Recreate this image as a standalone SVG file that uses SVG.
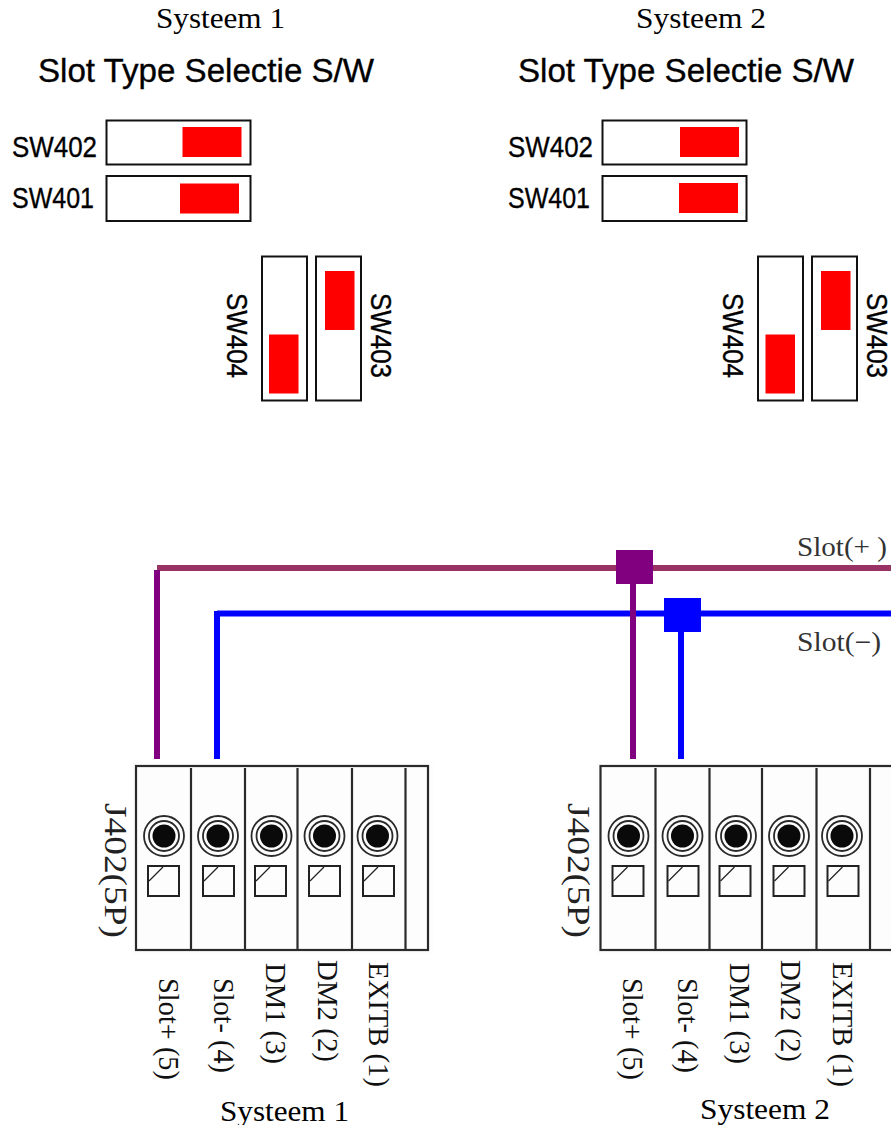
<svg xmlns="http://www.w3.org/2000/svg" xmlns:xlink="http://www.w3.org/1999/xlink" width="891" height="1125" viewBox="0 0 891 1125">
<style>
.serif{font-family:"Liberation Serif",serif;fill:#000}
.sans{font-family:"Liberation Sans",sans-serif;fill:#000;stroke:#000;stroke-width:.35}
.sys{font-size:30px}
.title{font-size:33px}
.sw{font-size:29px}
.pin{font-size:30px;fill:#111}
.jl{font-size:31px;fill:#222}
.sl{font-size:27px;fill:#333}
.box{fill:#fff;stroke:#111;stroke-width:2}
.red{fill:#f00}
.halo{fill:#fdfdfd}
.frame{fill:none;stroke:#2a2a2a;stroke-width:2.2}
.term{fill:none;stroke:#222;stroke-width:2}
.diag{fill:none;stroke:#222;stroke-width:1.3}
.ring{fill:none;stroke:#2a2a2a;stroke-width:1.8}
.dot{fill:#0a0a0a}
.plus{stroke:#993366;stroke-width:6;fill:none}
.purple{stroke:#800080;stroke-width:6;fill:none}
.blue{stroke:#0000ff;stroke-width:6;fill:none}
</style>
<defs>
<g id="screw">
<circle class="ring" r="20"/><circle class="ring" r="15"/><circle class="dot" r="11.500"/>
</g>
<g id="tick"><rect class="term" width="31" height="30"/><path class="diag" d="M1 15 15 1"/></g>
<g id="block">
<rect class="halo" x="-4" y="-4" width="301" height="193"/>
<rect class="frame" width="292" height="184"/>
<path class="frame" d="M55 2V184M109 2V184M161.500 2V184M216 2V184M269.500 2V184"/>
<use xlink:href="#screw" x="28" y="70"/><use xlink:href="#screw" x="82" y="70"/><use xlink:href="#screw" x="135.500" y="70"/><use xlink:href="#screw" x="188.500" y="70"/><use xlink:href="#screw" x="241.500" y="70"/>
<use xlink:href="#tick" x="12" y="100"/><use xlink:href="#tick" x="67" y="100"/><use xlink:href="#tick" x="119" y="100"/><use xlink:href="#tick" x="173" y="100"/><use xlink:href="#tick" x="227" y="100"/>
</g>
</defs>
<rect width="891" height="1125" fill="#fff"/>

<g id="system1-switches">
<text class="serif sys" x="156" y="28" textLength="129" lengthAdjust="spacingAndGlyphs">Systeem 1</text>
<text class="sans title" x="38" y="82" textLength="336" lengthAdjust="spacingAndGlyphs">Slot Type Selectie S/W</text>
<g id="s1-sw402"><text class="sans sw" x="12" y="157" textLength="85" lengthAdjust="spacingAndGlyphs">SW402</text><rect class="box" x="106.500" y="120.500" width="144" height="44"/><rect class="red" x="182.500" y="127" width="59" height="30"/></g>
<g id="s1-sw401"><text class="sans sw" x="12" y="208" textLength="82" lengthAdjust="spacingAndGlyphs">SW401</text><rect class="box" x="106.500" y="176" width="144" height="45"/><rect class="red" x="180" y="183.500" width="59" height="30"/></g>
<g id="s1-sw404"><text class="sans sw" transform="translate(227 293) rotate(90)" textLength="85" lengthAdjust="spacingAndGlyphs">SW404</text><rect class="box" x="262" y="256.500" width="45" height="144"/><rect class="red" x="269" y="334.500" width="29.500" height="59"/></g>
<g id="s1-sw403"><text class="sans sw" transform="translate(371 293) rotate(90)" textLength="85" lengthAdjust="spacingAndGlyphs">SW403</text><rect class="box" x="316" y="256.500" width="45" height="144"/><rect class="red" x="325" y="271" width="29.500" height="59"/></g>
</g>

<g id="system2-switches">
<text class="serif sys" x="636" y="28" textLength="130" lengthAdjust="spacingAndGlyphs">Systeem 2</text>
<text class="sans title" x="518" y="82" textLength="336" lengthAdjust="spacingAndGlyphs">Slot Type Selectie S/W</text>
<g id="s2-sw402"><text class="sans sw" x="508" y="157" textLength="85" lengthAdjust="spacingAndGlyphs">SW402</text><rect class="box" x="602.500" y="120.500" width="144" height="44"/><rect class="red" x="680" y="127" width="59" height="30"/></g>
<g id="s2-sw401"><text class="sans sw" x="508" y="208" textLength="82" lengthAdjust="spacingAndGlyphs">SW401</text><rect class="box" x="602.500" y="176" width="144" height="45"/><rect class="red" x="679" y="183" width="59" height="30"/></g>
<g id="s2-sw404"><text class="sans sw" transform="translate(723 293) rotate(90)" textLength="85" lengthAdjust="spacingAndGlyphs">SW404</text><rect class="box" x="758" y="256.500" width="45" height="144"/><rect class="red" x="765.500" y="334.500" width="29.500" height="59"/></g>
<g id="s2-sw403"><text class="sans sw" transform="translate(867 293) rotate(90)" textLength="85" lengthAdjust="spacingAndGlyphs">SW403</text><rect class="box" x="812" y="256.500" width="45" height="144"/><rect class="red" x="821" y="271" width="29.500" height="59"/></g>
</g>

<g id="connectors">
<path class="plus" d="M157 568H891"/>
<path class="blue" d="M217 613.500H891"/>
<path class="purple" d="M157 570V759"/>
<path class="blue" d="M217 611V759"/>
<path class="purple" d="M633 584V759"/>
<path class="blue" d="M681 632V759"/>
</g>
<g id="junction-plus"><rect x="616" y="550" width="37" height="34" fill="#800080"/></g>
<g id="junction-minus"><rect x="664" y="598" width="37" height="34" fill="#00f"/></g>
<g id="bus-labels">
<text class="serif sl" x="797" y="556" textLength="90" lengthAdjust="spacingAndGlyphs">Slot(+ )</text>
<text class="serif sl" x="797" y="651" textLength="84" lengthAdjust="spacingAndGlyphs">Slot(−)</text>
</g>

<g id="system1-terminal">
<use xlink:href="#block" x="136" y="766"/>
<text class="serif jl" transform="translate(105 803) rotate(90)" textLength="135" lengthAdjust="spacingAndGlyphs">J402(5P)</text>
<text class="serif pin" transform="translate(158.500 978) rotate(90)" textLength="102" lengthAdjust="spacingAndGlyphs">Slot+ (5)</text>
<text class="serif pin" transform="translate(213.500 978) rotate(90)" textLength="95" lengthAdjust="spacingAndGlyphs">Slot- (4)</text>
<text class="serif pin" transform="translate(265.500 963) rotate(90)" textLength="101" lengthAdjust="spacingAndGlyphs">DM1 (3)</text>
<text class="serif pin" transform="translate(317.500 960) rotate(90)" textLength="102" lengthAdjust="spacingAndGlyphs">DM2 (2)</text>
<text class="serif pin" transform="translate(368.500 962) rotate(90)" textLength="125" lengthAdjust="spacingAndGlyphs">EXITB (1)</text>
<text class="serif sys" x="220" y="1121" textLength="129" lengthAdjust="spacingAndGlyphs">Systeem 1</text>
</g>

<g id="system2-terminal">
<use xlink:href="#block" x="600.500" y="766"/>
<text class="serif jl" transform="translate(567.500 803) rotate(90)" textLength="135" lengthAdjust="spacingAndGlyphs">J402(5P)</text>
<text class="serif pin" transform="translate(622.500 978) rotate(90)" textLength="102" lengthAdjust="spacingAndGlyphs">Slot+ (5)</text>
<text class="serif pin" transform="translate(677.500 978) rotate(90)" textLength="95" lengthAdjust="spacingAndGlyphs">Slot- (4)</text>
<text class="serif pin" transform="translate(729.500 963) rotate(90)" textLength="101" lengthAdjust="spacingAndGlyphs">DM1 (3)</text>
<text class="serif pin" transform="translate(781 960) rotate(90)" textLength="102" lengthAdjust="spacingAndGlyphs">DM2 (2)</text>
<text class="serif pin" transform="translate(833 962) rotate(90)" textLength="125" lengthAdjust="spacingAndGlyphs">EXITB (1)</text>
<text class="serif sys" x="700" y="1119" textLength="130" lengthAdjust="spacingAndGlyphs">Systeem 2</text>
</g>
</svg>
